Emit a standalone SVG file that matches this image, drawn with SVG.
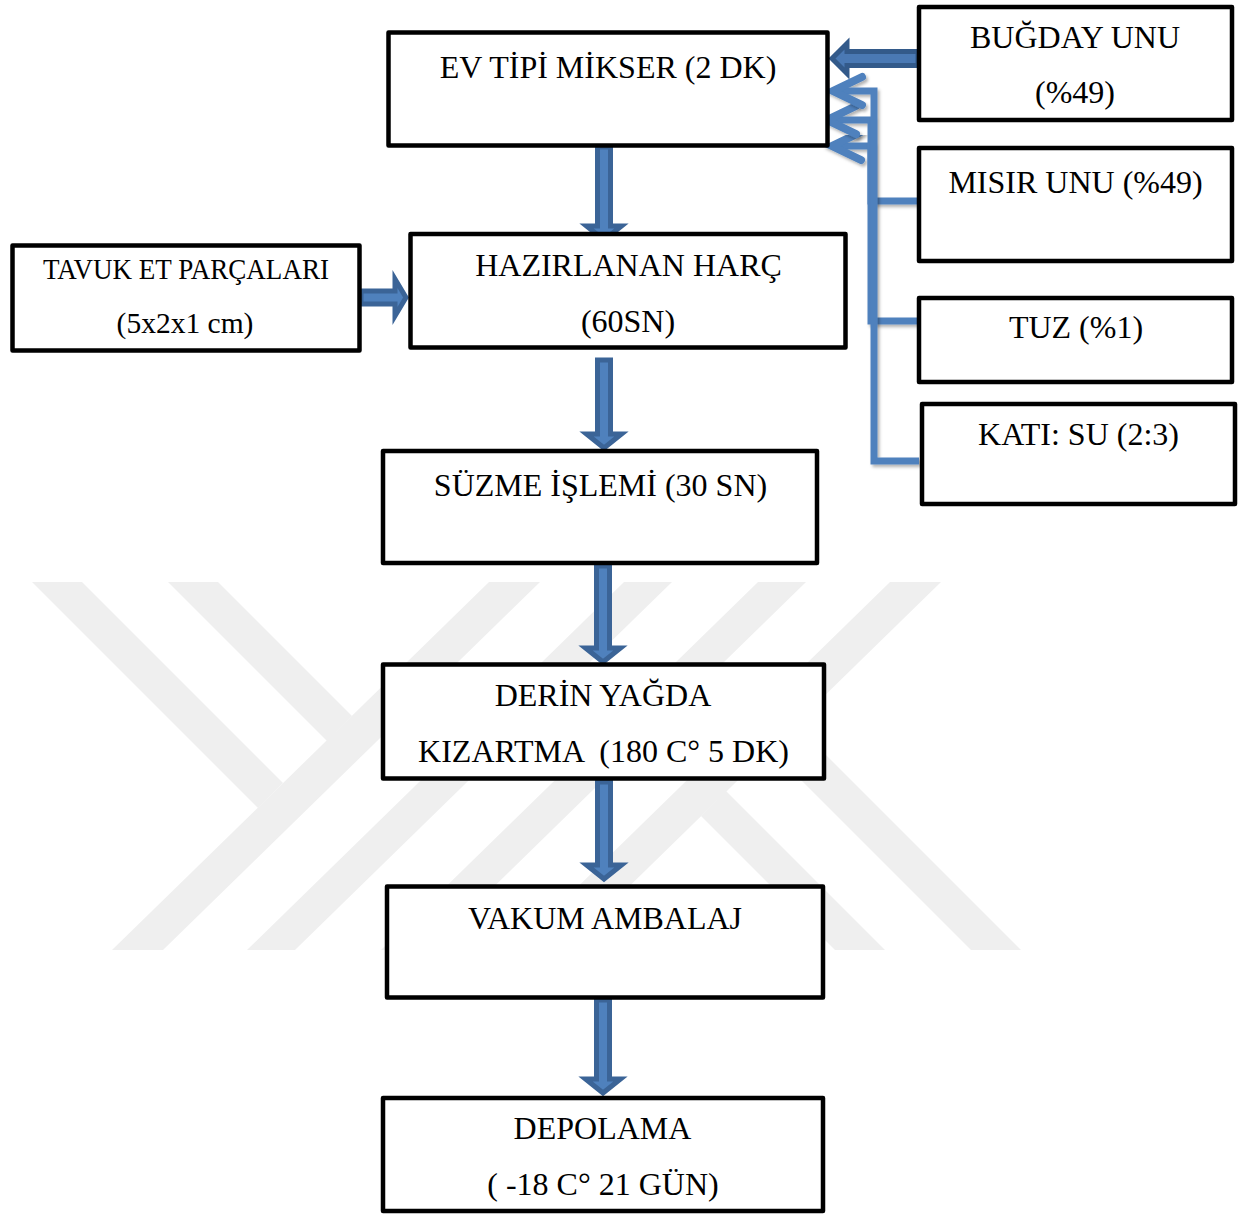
<svg xmlns="http://www.w3.org/2000/svg" width="1248" height="1214" viewBox="0 0 1248 1214">
<style>
.box{fill:#fff;stroke:#000;stroke-width:4.5;stroke-linejoin:round}
.t{font-family:"Liberation Serif","Times New Roman",serif;font-size:32px;fill:#000;text-anchor:middle}
.blk{fill:#4f81bd;stroke:#3b6497;stroke-width:5;stroke-linejoin:miter}
.blk2{fill:#4a79b4;stroke:#335a8a;stroke-width:5;stroke-linejoin:miter}
.ln{fill:none;stroke:#4f81bd;stroke-width:7;stroke-linejoin:miter}
.wm{fill:#efefef}
</style>
<defs>
<marker id="open" markerUnits="userSpaceOnUse" orient="auto" overflow="visible" refX="0" refY="0" markerWidth="1" markerHeight="1">
<path d="M-29,-14 L0,0 L-29,14" fill="none" stroke="#4f81bd" stroke-width="8" stroke-linecap="round"/>
</marker>
<filter id="sh" x="-20%" y="-20%" width="140%" height="140%">
<feDropShadow dx="2" dy="2.5" stdDeviation="1.5" flood-color="#000" flood-opacity="0.3"/>
</filter>
</defs>
<g id="watermark" class="wm">
<polygon points="489,582 540,582 163,950 112,950"/>
<polygon points="32,582 82,582 283,783 258,808"/>
<polygon points="168,582 218,582 352,716 327,741"/>
<polygon points="624,582 672,582 295,950 247,950"/>
<polygon points="564,950 513,950 890,582 941,582"/>
<polygon points="1021,950 971,950 770,749 795,724"/>
<polygon points="885,950 835,950 701,816 726,791"/>
<polygon points="429,950 381,950 758,582 806,582"/>
</g>
<g id="connectors">
<polygon class="blk" points="597.5,147 610.5,147 610.5,226 621.5,226 604,240 586.5,226 597.5,226"/>
<polygon class="blk" points="597.5,360 610.5,360 610.5,434 621.5,434 604,448 586.5,434 597.5,434"/>
<polygon class="blk" points="596.5,566 609.5,566 609.5,648 620.5,648 603,662 585.5,648 596.5,648"/>
<polygon class="blk" points="597.5,782 610.5,782 610.5,865 621.5,865 604,879 586.5,865 597.5,865"/>
<polygon class="blk" points="596.5,1000 609.5,1000 609.5,1079 620.5,1079 603,1093 585.5,1079 596.5,1079"/>
<polygon class="blk" points="361,291 395,291 395,279 406,297.5 395,316 395,304 361,304"/>
<polygon class="blk2" points="918,51.5 847,51.5 847,43.5 832,58.5 847,73.5 847,65.5 918,65.5"/>
<path class="ln" filter="url(#sh)" d="M919,201 H871 V146 H832" marker-end="url(#open)"/>
<path class="ln" filter="url(#sh)" d="M919,321 H871 V120 H827" marker-end="url(#open)"/>
<path class="ln" filter="url(#sh)" d="M919,461 H874 V91 H833" marker-end="url(#open)"/>
</g>
<g id="node-mikser">
<rect class="box" x="388.5" y="32.5" width="439" height="113"/>
<text class="t" x="608" y="78">EV TİPİ MİKSER (2 DK)</text>
</g>
<g id="node-bugday">
<rect class="box" x="919" y="7" width="313" height="113"/>
<text class="t" x="1075" y="48">BUĞDAY UNU</text>
<text class="t" x="1075" y="103">(%49)</text>
</g>
<g id="node-misir">
<rect class="box" x="919" y="148" width="313" height="113"/>
<text class="t" x="1075.5" y="193">MISIR UNU (%49)</text>
</g>
<g id="node-tuz">
<rect class="box" x="919" y="298" width="313" height="84"/>
<text class="t" x="1076" y="338">TUZ (%1)</text>
</g>
<g id="node-kati">
<rect class="box" x="922" y="404" width="313" height="100"/>
<text class="t" x="1078.5" y="445">KATI: SU (2:3)</text>
</g>
<g id="node-tavuk">
<rect class="box" x="12.5" y="245.5" width="347" height="105"/>
<text class="t" x="186" y="279" style="font-size:29px" textLength="286" lengthAdjust="spacingAndGlyphs">TAVUK ET PARÇALARI</text>
<text class="t" x="185" y="333" style="font-size:29.5px">(5x2x1 cm)</text>
</g>
<g id="node-harc">
<rect class="box" x="410.5" y="234" width="435" height="113.5"/>
<text class="t" x="628.5" y="276">HAZIRLANAN HARÇ</text>
<text class="t" x="628" y="332">(60SN)</text>
</g>
<g id="node-suzme">
<rect class="box" x="383" y="451" width="434" height="112"/>
<text class="t" x="600.5" y="496">SÜZME İŞLEMİ (30 SN)</text>
</g>
<g id="node-kizartma">
<rect class="box" x="383" y="664.5" width="441" height="114"/>
<text class="t" x="603" y="706">DERİN YAĞDA</text>
<text class="t" x="603.5" y="762" xml:space="preserve" style="white-space:pre">KIZARTMA  (180 C° 5 DK)</text>
</g>
<g id="node-vakum">
<rect class="box" x="387" y="886.5" width="436" height="111"/>
<text class="t" x="605" y="929">VAKUM AMBALAJ</text>
</g>
<g id="node-depolama">
<rect class="box" x="383" y="1098" width="440" height="113"/>
<text class="t" x="602.5" y="1139">DEPOLAMA</text>
<text class="t" x="603" y="1195" xml:space="preserve" style="white-space:pre">( -18 C° 21 GÜN)</text>
</g>
</svg>
